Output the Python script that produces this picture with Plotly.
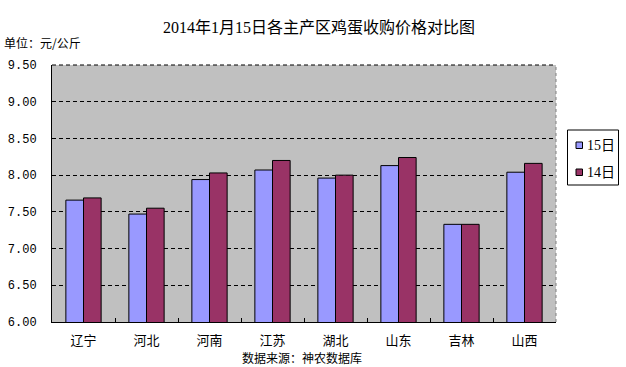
import plotly.graph_objects as go

categories = ["辽宁", "河北", "河南", "江苏", "湖北", "山东", "吉林", "山西"]
series_names = ["15日", "14日"]
series_colors = ["#9999FF", "#993366"]
values_15 = [7.66, 7.47, 7.94, 8.07, 7.96, 8.13, 7.33, 8.04]
values_14 = [7.69, 7.55, 8.03, 8.20, 8.00, 8.24, 7.33, 8.16]
y_ticks = [6.0, 6.5, 7.0, 7.5, 8.0, 8.5, 9.0, 9.5]
y_tick_labels = ["6.00", "6.50", "7.00", "7.50", "8.00", "8.50", "9.00", "9.50"]

W, H = 626, 367
L, R, T, B = 52, 70, 65, 45
plot_w = W - L - R
plot_h = H - T - B

def px_x(px):
    return (px - L) / plot_w

def px_y(py):
    return (H - B - py) / plot_h

CJK = "Noto Sans CJK SC"
SERIF = "Liberation Serif, Noto Sans CJK SC"

fig = go.Figure()
for name, vals, col in zip(series_names, [values_15, values_14], series_colors):
    fig.add_trace(go.Bar(x=categories, y=vals, name=name, showlegend=False,
                         marker=dict(color=col, line=dict(color="#000000", width=1))))

fig.update_layout(
    width=W, height=H,
    margin=dict(l=L, r=R, t=T, b=B, autoexpand=False),
    paper_bgcolor="#FFFFFF",
    plot_bgcolor="#C0C0C0",
    barmode="group",
    bargap=0.44,
    bargroupgap=0,
    title=dict(text="2014年1月15日各主产区鸡蛋收购价格对比图",
               x=px_x(319), xref="paper", xanchor="center",
               y=1 - 27 / H, yref="container", yanchor="middle",
               font=dict(family=SERIF, size=16, color="#000000")),
    showlegend=False,
    font=dict(family=CJK, size=12, color="#000000"),
)

fig.update_xaxes(
    type="category",
    showline=True, linecolor="#000000", linewidth=1,
    ticks="inside", tickson="boundaries", ticklen=4, tickcolor="#000000",
    tickfont=dict(family=CJK, size=13, color="#000000"),
    ticklabelstandoff=6,
    showgrid=False,
)
fig.update_yaxes(
    range=[6, 9.5],
    tickvals=y_ticks, ticktext=y_tick_labels,
    showline=True, linecolor="#000000", linewidth=1,
    showgrid=True, gridcolor="#000000", gridwidth=1, griddash="4px,3px",
    tickfont=dict(family="Liberation Mono, DejaVu Sans Mono", size=12, color="#000000"),
    ticks="", ticklabelstandoff=12,
    zeroline=False,
)

# dashed top edge and dotted right border of plot area
fig.add_shape(type="line", xref="paper", yref="paper", x0=0, x1=1, y0=1, y1=1,
              line=dict(color="#000000", width=1, dash="4px,3px"))
fig.add_shape(type="line", xref="paper", yref="paper", x0=1, x1=1, y0=0, y1=1,
              line=dict(color="#808080", width=1, dash="dot"))

# legend box (drawn to match compact legend of reference)
fig.add_shape(type="rect", xref="paper", yref="paper",
              x0=px_x(567.5), x1=px_x(618.5), y0=px_y(185), y1=px_y(130),
              line=dict(color="#000000", width=1), fillcolor="#FFFFFF")
for i, (name, col) in enumerate(zip(series_names, series_colors)):
    cy = [145, 172][i]
    fig.add_shape(type="rect", xref="paper", yref="paper",
                  x0=px_x(576), x1=px_x(582.5), y0=px_y(cy + 3.5), y1=px_y(cy - 3),
                  line=dict(color="#000000", width=1), fillcolor=col)
    fig.add_annotation(text=name, xref="paper", yref="paper",
                       x=px_x(585), y=px_y(cy), xanchor="left", yanchor="middle",
                       showarrow=False, font=dict(family=SERIF, size=14, color="#000000"))

fig.add_annotation(text="单位：元/公斤", xref="paper", yref="paper",
                   x=px_x(2), y=px_y(42), xanchor="left", yanchor="middle",
                   showarrow=False, font=dict(family=CJK, size=12, color="#000000"))
fig.add_annotation(text="数据来源：神农数据库", xref="paper", yref="paper",
                   x=px_x(302), y=px_y(357), xanchor="center", yanchor="middle",
                   showarrow=False, font=dict(family=CJK, size=12, color="#000000"))

fig.write_html("out.html", config={"displayModeBar": False},
               post_script="document.body.style.margin='0';document.body.style.overflow='hidden';")
